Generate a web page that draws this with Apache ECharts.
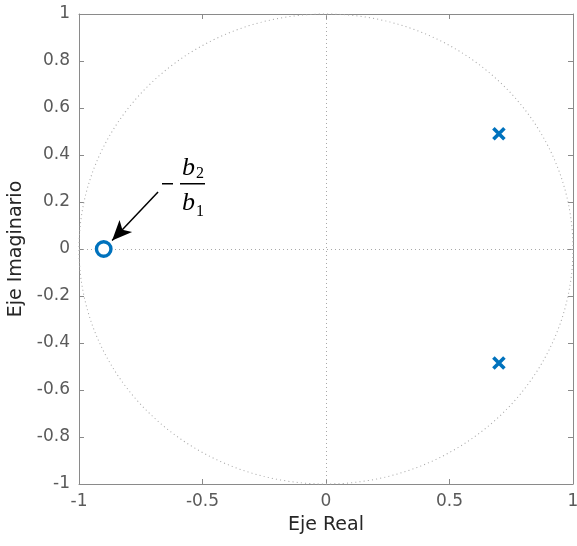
<!DOCTYPE html>
<html>
<head>
<meta charset="utf-8">
<script src="https://cdn.jsdelivr.net/npm/echarts@6/dist/echarts.min.js"></script>
<style>html,body{margin:0;padding:0;background:#fff}#c{width:577px;height:546px}</style>
</head>
<body>
<div id="c"></div>
<script>
// Data
var zeros = [[-0.9, 0]];
var poles = [[0.7, 0.49], [0.7, -0.485]];
var unitRadius = 1;
var xTicks = [-1, -0.5, 0, 0.5, 1];
var yTicks = [-1, -0.8, -0.6, -0.4, -0.2, 0, 0.2, 0.4, 0.6, 0.8, 1];
var arrowFrom = [-0.68, 0.243];
var arrowTo = [-0.866, 0.036];
var fracAnchor = [-0.6, 0.28];

var blue = '#0072BD';
var axisGray = '#8a8a8a';
var labelGray = '#5a5a5a';
var font = 'DejaVu Sans';

var chart = echarts.init(document.getElementById('c'));

function baseAxis(extra) {
  return Object.assign({
    type: 'value', min: -1, max: 1,
    axisLine: { show: true, onZero: false, lineStyle: { color: axisGray, width: 1 } },
    axisTick: { show: true, inside: true, length: 5, lineStyle: { color: axisGray } },
    splitLine: { show: false },
    axisLabel: { color: labelGray, fontFamily: font, fontSize: 17 }
  }, extra);
}

var option = {
  animation: false,
  grid: { left: 79, right: 4, top: 14, bottom: 62, containLabel: false, outerBoundsMode: 'none' },
  xAxis: [
    baseAxis({ position: 'bottom', interval: 0.5, name: 'Eje Real', nameLocation: 'middle', nameGap: 32,
      nameTextStyle: { color: '#262626', fontFamily: font, fontSize: 19 },
      axisLabel: { color: labelGray, fontFamily: font, fontSize: 17, margin: 9,
        formatter: function (v) { return String(v); } } }),
    baseAxis({ position: 'top', interval: 0.5, axisLabel: { show: false } })
  ],
  yAxis: [
    baseAxis({ position: 'left', interval: 0.2, name: 'Eje Imaginario', nameLocation: 'middle', nameGap: 47,
      nameTextStyle: { color: '#262626', fontFamily: font, fontSize: 19 },
      axisLabel: { color: labelGray, fontFamily: font, fontSize: 17, margin: 9,
        formatter: function (v) { return String(Math.round(v * 10) / 10); } } }),
    baseAxis({ position: 'right', interval: 0.2, axisLabel: { show: false } })
  ],
  series: [
    {
      type: 'custom',
      silent: true,
      data: [[0, 0]],
      renderItem: function (params, api) {
        var c = api.coord([0, 0]);
        var s = api.size([unitRadius, unitRadius]);
        return {
          type: 'circle',
          x: c[0], y: c[1],
          scaleX: s[0] / s[1],
          shape: { cx: 0, cy: 0, r: s[1] },
          style: { fill: 'none', stroke: '#a8a8a8', lineWidth: 1, lineDash: [1, 3] }
        };
      },
      z: 1
    },
    {
      type: 'scatter',
      data: zeros,
      symbol: 'circle',
      symbolSize: 14.5,
      itemStyle: { color: '#fff', borderColor: blue, borderWidth: 3.4, opacity: 1 },
      z: 5,
      markLine: {
        silent: true,
        symbol: 'none',
        label: { show: false },
        lineStyle: { color: '#a8a8a8', type: [1, 3], width: 1 },
        data: [{ xAxis: 0 }, { yAxis: 0 }],
        z: 1
      }
    },
    {
      type: 'scatter',
      data: poles,
      symbol: 'path://M0,0L10,10M10,0L0,10',
      symbolSize: 11,
      itemStyle: { color: 'none', borderColor: blue, borderWidth: 3.6, opacity: 1 },
      z: 5,
      markLine: {
        silent: true,
        symbol: ['none', 'arrow'],
        symbolSize: [13, 20],
        label: { show: false },
        lineStyle: { color: '#000', type: 'solid', width: 1.5 },
        data: [[{ coord: arrowFrom }, { coord: arrowTo }]],
        z: 6
      }
    }
  ]
};
chart.setOption(option);

var p = chart.convertToPixel({ xAxisIndex: 0, yAxisIndex: 0 }, fracAnchor);
var px = Math.round(p[0]);
var py = Math.round(p[1]);
var serif = 'Liberation Serif';
chart.setOption({
  graphic: [
    { type: 'rect', shape: { x: px - 16, y: py, width: 11, height: 1.5 }, style: { fill: '#000' } },
    { type: 'rect', shape: { x: px + 2, y: py, width: 25, height: 1.5 }, style: { fill: '#000' } },
    { type: 'text', x: px + 4, y: py - 2, style: { text: 'b', font: 'italic 26px ' + serif, fill: '#000', textAlign: 'left', textVerticalAlign: 'bottom' } },
    { type: 'text', x: px + 18, y: py - 1, style: { text: '2', font: '16px ' + serif, fill: '#000', textAlign: 'left', textVerticalAlign: 'bottom' } },
    { type: 'text', x: px + 4, y: py + 33, style: { text: 'b', font: 'italic 26px ' + serif, fill: '#000', textAlign: 'left', textVerticalAlign: 'bottom' } },
    { type: 'text', x: px + 18, y: py + 37, style: { text: '1', font: '16px ' + serif, fill: '#000', textAlign: 'left', textVerticalAlign: 'bottom' } }
  ]
});
</script>
</body>
</html>
